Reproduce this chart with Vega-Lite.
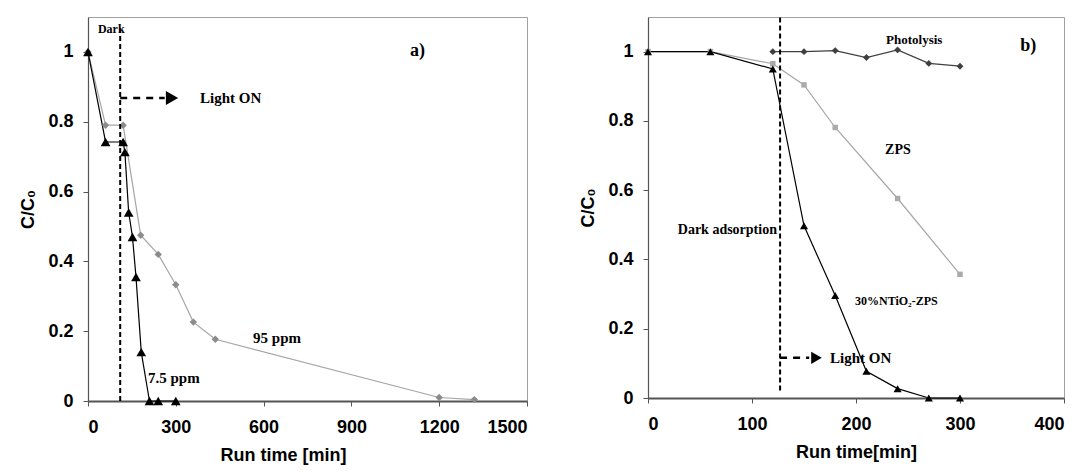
{
  "$schema": "https://vega.github.io/schema/vega-lite/v6.json",
  "background": "white",
  "padding": {"left": 19, "top": 15, "right": 5, "bottom": 5},
  "bounds": "flush",
  "spacing": 121,
  "resolve": {"scale": {"color": "independent", "fill": "independent", "shape": "independent", "size": "independent"}},
  "config": {
    "view": {"stroke": "#a0a0a0", "strokeWidth": 1},
    "axis": {
      "grid": false,
      "labelFont": "Liberation Sans", "labelFontWeight": "bold", "labelFontSize": 18, "labelColor": "#000000",
      "titleFont": "Liberation Sans", "titleFontWeight": "bold", "titleFontSize": 18, "titleColor": "#000000",
      "domainColor": "#555555", "tickColor": "#555555", "tickSize": 5
    },
    "axisX": {"domainWidth": 2, "labelPadding": 12, "titlePadding": 10},
    "axisY": {"domainWidth": 1.2, "labelPadding": 10, "titlePadding": 10},
    "text": {"font": "Liberation Serif", "fontWeight": "bold", "color": "#000000"}
  },
  "hconcat": [
    {
      "width": 439,
      "height": 384,
      "encoding": {
        "x": {"field": "x", "type": "quantitative", "scale": {"domain": [0, 1500], "nice": false},
              "axis": {"values": [0, 300, 600, 900, 1200, 1500], "format": "d", "title": "Run time [min]", "titleX": 195}},
        "y": {"field": "y", "type": "quantitative", "scale": {"domain": [0, 1.1], "nice": false},
              "axis": {"values": [0, 0.2, 0.4, 0.6, 0.8, 1], "format": "~g", "title": "C/C₀"}}
      },
      "layer": [
        {
          "data": {"values": [
            {"series": "95 ppm", "x": 0, "y": 1}, {"series": "95 ppm", "x": 60, "y": 0.79}, {"series": "95 ppm", "x": 120, "y": 0.79},
            {"series": "95 ppm", "x": 180, "y": 0.475}, {"series": "95 ppm", "x": 240, "y": 0.42}, {"series": "95 ppm", "x": 300, "y": 0.333},
            {"series": "95 ppm", "x": 360, "y": 0.226}, {"series": "95 ppm", "x": 435, "y": 0.177}, {"series": "95 ppm", "x": 1200, "y": 0.01},
            {"series": "95 ppm", "x": 1320, "y": 0.004},
            {"series": "7.5 ppm", "x": 0, "y": 1}, {"series": "7.5 ppm", "x": 60, "y": 0.742}, {"series": "7.5 ppm", "x": 120, "y": 0.742},
            {"series": "7.5 ppm", "x": 126, "y": 0.713}, {"series": "7.5 ppm", "x": 139, "y": 0.54}, {"series": "7.5 ppm", "x": 152, "y": 0.47},
            {"series": "7.5 ppm", "x": 164, "y": 0.355}, {"series": "7.5 ppm", "x": 182, "y": 0.14}, {"series": "7.5 ppm", "x": 210, "y": 0},
            {"series": "7.5 ppm", "x": 240, "y": 0}, {"series": "7.5 ppm", "x": 300, "y": 0}
          ]},
          "layer": [
            {"mark": {"type": "line", "strokeWidth": 1.2},
             "encoding": {"color": {"field": "series", "type": "nominal", "scale": {"domain": ["95 ppm", "7.5 ppm"], "range": ["#a6a6a6", "#000000"]}, "legend": null}}},
            {"mark": {"type": "point", "filled": true, "opacity": 1},
             "encoding": {
               "fill": {"field": "series", "type": "nominal", "scale": {"domain": ["95 ppm", "7.5 ppm"], "range": ["#8c8c8c", "#000000"]}, "legend": null},
               "shape": {"field": "series", "type": "nominal", "scale": {"domain": ["95 ppm", "7.5 ppm"], "range": ["diamond", "triangle-up"]}, "legend": null},
               "size": {"field": "series", "type": "nominal", "scale": {"domain": ["95 ppm", "7.5 ppm"], "range": [55, 95]}, "legend": null}
             }}
          ]
        },
        {
          "data": {"values": [{"x": 110, "y": 0, "y2": 1.078}]},
          "mark": {"type": "rule", "color": "#000000", "strokeWidth": 2, "strokeDash": [5, 3]},
          "encoding": {"y2": {"field": "y2"}}
        },
        {
          "data": {"values": [{"x": 110, "x2": 262, "y": 0.868}]},
          "mark": {"type": "rule", "color": "#000000", "strokeWidth": 2.5, "strokeDash": [7, 6]},
          "encoding": {"x2": {"field": "x2"}}
        },
        {
          "data": {"values": [{"x": 287, "y": 0.868}]},
          "mark": {"type": "point", "shape": "triangle-right", "filled": true, "color": "#000000", "opacity": 1, "size": 200},
          "encoding": {}
        },
        {
          "data": {"values": [{"x": 34, "y": 1.066, "label": "Dark"}]},
          "mark": {"type": "text", "fontSize": 12, "align": "left", "baseline": "middle"},
          "encoding": {"text": {"field": "label"}}
        },
        {
          "data": {"values": [
            {"x": 383, "y": 0.868, "label": "Light ON"},
            {"x": 564, "y": 0.18, "label": "95 ppm"},
            {"x": 205, "y": 0.067, "label": "7.5 ppm"}
          ]},
          "mark": {"type": "text", "fontSize": 15, "align": "left", "baseline": "middle"},
          "encoding": {"text": {"field": "label"}}
        },
        {
          "data": {"values": [{"x": 1100, "y": 1.004, "label": "a)"}]},
          "mark": {"type": "text", "fontSize": 18, "align": "left", "baseline": "middle"},
          "encoding": {"text": {"field": "label"}}
        }
      ]
    },
    {
      "width": 416,
      "height": 381,
      "encoding": {
        "x": {"field": "x", "type": "quantitative", "scale": {"domain": [0, 400], "nice": false},
              "axis": {"values": [0, 100, 200, 300, 400], "format": "d", "title": "Run time[min]"}},
        "y": {"field": "y", "type": "quantitative", "scale": {"domain": [0, 1.1], "nice": false},
              "axis": {"values": [0, 0.2, 0.4, 0.6, 0.8, 1], "format": "~g", "title": "C/C₀"}}
      },
      "layer": [
        {
          "data": {"values": [
            {"series": "ZPS", "x": 0, "y": 1}, {"series": "ZPS", "x": 60, "y": 1}, {"series": "ZPS", "x": 120, "y": 0.965},
            {"series": "ZPS", "x": 150, "y": 0.904}, {"series": "ZPS", "x": 180, "y": 0.781}, {"series": "ZPS", "x": 240, "y": 0.576},
            {"series": "ZPS", "x": 300, "y": 0.357},
            {"series": "Photolysis", "x": 120, "y": 1}, {"series": "Photolysis", "x": 150, "y": 1}, {"series": "Photolysis", "x": 180, "y": 1.003},
            {"series": "Photolysis", "x": 210, "y": 0.983}, {"series": "Photolysis", "x": 240, "y": 1.005}, {"series": "Photolysis", "x": 270, "y": 0.966},
            {"series": "Photolysis", "x": 300, "y": 0.958},
            {"series": "30%NTiO2-ZPS", "x": 0, "y": 1}, {"series": "30%NTiO2-ZPS", "x": 60, "y": 1}, {"series": "30%NTiO2-ZPS", "x": 120, "y": 0.95},
            {"series": "30%NTiO2-ZPS", "x": 150, "y": 0.497}, {"series": "30%NTiO2-ZPS", "x": 180, "y": 0.296}, {"series": "30%NTiO2-ZPS", "x": 210, "y": 0.077},
            {"series": "30%NTiO2-ZPS", "x": 240, "y": 0.027}, {"series": "30%NTiO2-ZPS", "x": 270, "y": 0}, {"series": "30%NTiO2-ZPS", "x": 300, "y": 0}
          ]},
          "layer": [
            {"mark": {"type": "line", "strokeWidth": 1.2},
             "encoding": {"color": {"field": "series", "type": "nominal", "scale": {"domain": ["ZPS", "Photolysis", "30%NTiO2-ZPS"], "range": ["#a6a6a6", "#404040", "#000000"]}, "legend": null}}},
            {"mark": {"type": "point", "filled": true, "opacity": 1},
             "encoding": {
               "fill": {"field": "series", "type": "nominal", "scale": {"domain": ["ZPS", "Photolysis", "30%NTiO2-ZPS"], "range": ["#aaaaaa", "#404040", "#000000"]}, "legend": null},
               "shape": {"field": "series", "type": "nominal", "scale": {"domain": ["ZPS", "Photolysis", "30%NTiO2-ZPS"], "range": ["square", "diamond", "triangle-up"]}, "legend": null},
               "size": {"field": "series", "type": "nominal", "scale": {"domain": ["ZPS", "Photolysis", "30%NTiO2-ZPS"], "range": [30, 65, 95]}, "legend": null}
             }}
          ]
        },
        {
          "data": {"values": [{"x": 127, "y": 0.022, "y2": 1.1}]},
          "mark": {"type": "rule", "color": "#000000", "strokeWidth": 2, "strokeDash": [5, 3]},
          "encoding": {"y2": {"field": "y2"}}
        },
        {
          "data": {"values": [{"x": 127, "x2": 155, "y": 0.116}]},
          "mark": {"type": "rule", "color": "#000000", "strokeWidth": 2.5, "strokeDash": [7, 6]},
          "encoding": {"x2": {"field": "x2"}}
        },
        {
          "data": {"values": [{"x": 162, "y": 0.116}]},
          "mark": {"type": "point", "shape": "triangle-right", "filled": true, "color": "#000000", "opacity": 1, "size": 150},
          "encoding": {}
        },
        {
          "data": {"values": [
            {"x": 175, "y": 0.116, "label": "Light ON"}
          ]},
          "mark": {"type": "text", "fontSize": 15, "align": "left", "baseline": "middle"},
          "encoding": {"text": {"field": "label"}}
        },
        {
          "data": {"values": [{"x": 124, "y": 0.485, "label": "Dark adsorption"}]},
          "mark": {"type": "text", "fontSize": 14, "align": "right", "baseline": "middle"},
          "encoding": {"text": {"field": "label"}}
        },
        {
          "data": {"values": [
            {"x": 256, "y": 1.035, "label": "Photolysis"}
          ]},
          "mark": {"type": "text", "fontSize": 13, "align": "center", "baseline": "middle"},
          "encoding": {"text": {"field": "label"}}
        },
        {
          "data": {"values": [
            {"x": 228, "y": 0.715, "label": "ZPS"}
          ]},
          "mark": {"type": "text", "fontSize": 14, "align": "left", "baseline": "middle"},
          "encoding": {"text": {"field": "label"}}
        },
        {
          "data": {"values": [
            {"x": 199, "y": 0.28, "label": "30%NTiO₂-ZPS"}
          ]},
          "mark": {"type": "text", "fontSize": 12, "align": "left", "baseline": "middle"},
          "encoding": {"text": {"field": "label"}}
        },
        {
          "data": {"values": [{"x": 358, "y": 1.017, "label": "b)"}]},
          "mark": {"type": "text", "fontSize": 18, "align": "left", "baseline": "middle"},
          "encoding": {"text": {"field": "label"}}
        }
      ]
    }
  ]
}
